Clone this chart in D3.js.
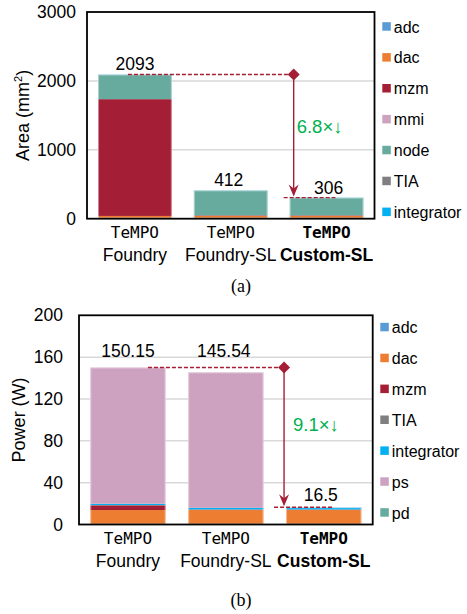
<!DOCTYPE html>
<html>
<head>
<meta charset="utf-8">
<script src="https://cdn.jsdelivr.net/npm/d3@7"></script>
<style>
  html, body { margin: 0; padding: 0; background: #fff; }
  svg { display: block; }
  text { fill: #000; }
</style>
</head>
<body>
<svg id="fig" width="467" height="614"></svg>
<script>
// Design variants shown on both panels
const variants = ["Foundry", "Foundry-SL", "Custom-SL"];
const variantPrefix = "TeMPO";

// (a) area breakdown, mm²
const areaKeys = ["adc", "dac", "mzm", "mmi", "node", "TIA", "integrator"];
const areaAdc        = [15, 15, 15];
const areaDac        = [25, 25, 25];
const areaMzm        = [1695, 8, 8];
const areaMmi        = [0, 0, 0];
const areaNode       = [355, 361, 255];
const areaTia        = [0, 0, 0];
const areaIntegrator = [3, 3, 3];
const areaTotals     = [2093, 412, 306];
const areaTicks      = [0, 1000, 2000, 3000];
const areaRatio      = "6.8×↓";

// (b) power breakdown, W
const powerKeys = ["adc", "dac", "mzm", "TIA", "integrator", "ps", "pd"];
const powerAdc        = [0.8, 0.8, 0.8];
const powerDac        = [13.0, 13.0, 13.0];
const powerMzm        = [4.5, 0.3, 0.3];
const powerTia        = [0.3, 0.3, 0.3];
const powerIntegrator = [1.2, 1.5, 1.8];
const powerPs         = [130.35, 129.64, 0.3];
const powerPd         = [0, 0, 0];
const powerTotals     = [150.15, 145.54, 16.5];
const powerTicks      = [0, 40, 80, 120, 160, 200];
const powerRatio      = "9.1×↓";

const colors = {
  adc: "#5B9BD5", dac: "#ED7D31", mzm: "#A41F35", mmi: "#CDA2C0",
  node: "#67AB9F", TIA: "#7F7F7F", integrator: "#00B0F0",
  ps: "#CDA2C0", pd: "#67AB9F"
};
const accent = "#A41F35";
const green = "#00B050";
const SANS = "'Liberation Sans', Arial, sans-serif";
const MONO = "'DejaVu Sans Mono', monospace";
const SERIF = "'Liberation Serif', 'Times New Roman', serif";

function rows(keys, cols) {
  return variants.map((v, i) => {
    const r = { variant: v };
    keys.forEach((k, j) => { r[k] = cols[j][i]; });
    return r;
  });
}

const areaRows = rows(areaKeys, [areaAdc, areaDac, areaMzm, areaMmi, areaNode, areaTia, areaIntegrator]);
const powerRows = rows(powerKeys, [powerAdc, powerDac, powerMzm, powerTia, powerIntegrator, powerPs, powerPd]);

const svg = d3.select("#fig");

function drawPanel(o) {
  const g = svg.append("g").style("font-family", SANS);
  const x = d3.scaleBand().domain(variants)
    .range([o.left, o.right]).paddingInner(0.23).paddingOuter(0.115);
  const y = d3.scaleLinear().domain([0, o.ticks[o.ticks.length - 1]])
    .range([o.bottom, o.top]);

  // gridlines
  g.append("g").selectAll("line").data(o.ticks.slice(1, -1)).join("line")
    .attr("x1", o.left).attr("x2", o.right)
    .attr("y1", d => y(d)).attr("y2", d => y(d))
    .attr("stroke", "#d9d9d9").attr("stroke-width", 1.5);

  // y axis labels
  const ax = g.append("g").attr("transform", `translate(${o.left},0)`)
    .call(d3.axisLeft(y).tickValues(o.ticks).tickFormat(d3.format("d"))
      .tickSize(0).tickPadding(o.tickPad));
  ax.select(".domain").remove();
  ax.selectAll("text").attr("font-size", 17.5)
    .style("font-family", SANS).attr("fill", "#000");

  // stacked bars
  const series = d3.stack().keys(o.keys)(o.rows);
  g.append("g").selectAll("g").data(series).join("g")
    .attr("fill", d => colors[d.key])
    .selectAll("rect").data(d => d).join("rect")
    .attr("x", d => x(d.data.variant))
    .attr("width", x.bandwidth())
    .attr("y", d => y(d[1]))
    .attr("height", d => Math.max(0, y(d[0]) - y(d[1])));

  // soft outline round each bar
  g.append("g").selectAll("rect").data(o.totals).join("rect")
    .attr("x", (d, i) => x(variants[i]) + 0.5)
    .attr("width", x.bandwidth() - 1)
    .attr("y", d => y(d) + 0.5)
    .attr("height", d => y(0) - y(d) - 0.5)
    .attr("fill", "none").attr("stroke", "#ffffff").attr("stroke-opacity", 0.45)
    .attr("stroke-width", 1);

  // plot frame
  g.append("rect").attr("x", o.left).attr("y", o.top)
    .attr("width", o.right - o.left).attr("height", o.bottom - o.top)
    .attr("fill", "none").attr("stroke", "#000").attr("stroke-width", 1.8);

  // total labels
  const maxT = d3.max(o.totals);
  g.append("g").selectAll("text").data(o.totals).join("text")
    .attr("x", (d, i) => x(variants[i]) + x.bandwidth() / 2 + o.labelDx[i])
    .attr("y", d => o.labelY(y, d, maxT))
    .attr("text-anchor", "middle").attr("font-size", 17.5)
    .text(d => d);

  // category labels
  const cat = g.append("g");
  variants.forEach((v, i) => {
    const cx = x(v) + x.bandwidth() / 2;
    const bold = i === variants.length - 1;
    cat.append("text").attr("x", cx).attr("y", o.bottom + 19)
      .attr("text-anchor", "middle").attr("font-size", 16)
      .style("font-family", MONO)
      .attr("font-weight", bold ? "bold" : "normal")
      .text(variantPrefix);
    cat.append("text").attr("x", cx).attr("y", o.bottom + 42)
      .attr("text-anchor", "middle").attr("font-size", 17.5)
      .attr("font-weight", bold ? "bold" : "normal")
      .text(v);
  });

  // reduction marker: dashed guides, diamond and arrow
  const last = variants[variants.length - 1];
  const ax0 = x(last) + o.arrowDx;
  const yHi = y(o.totals[0]);
  const yLo = y(o.totals[o.totals.length - 1]);
  const mk = g.append("g").attr("stroke", accent).attr("fill", accent);
  mk.append("line").attr("x1", x(variants[0]) + x.bandwidth() / 2 + o.dashStart).attr("x2", ax0)
    .attr("y1", yHi).attr("y2", yHi)
    .attr("stroke-width", 1.4).attr("stroke-dasharray", "4,2");
  mk.append("line").attr("x1", ax0 - 10).attr("x2", x(last) + x.bandwidth() * 0.62)
    .attr("y1", yLo).attr("y2", yLo)
    .attr("stroke-width", 1.4).attr("stroke-dasharray", "4,2");
  mk.append("line").attr("x1", ax0).attr("x2", ax0)
    .attr("y1", yHi).attr("y2", yLo - 3)
    .attr("stroke-width", 1.4);
  mk.append("path")
    .attr("d", `M${ax0},${yLo - 1} L${ax0 - 5},${yLo - 13} L${ax0},${yLo - 9} L${ax0 + 5},${yLo - 13} Z`)
    .attr("stroke", "none");
  mk.append("path")
    .attr("d", `M${ax0},${yHi - 6} L${ax0 + 6},${yHi} L${ax0},${yHi + 6} L${ax0 - 6},${yHi} Z`)
    .attr("stroke", "none");
  g.append("text").attr("x", ax0 + o.ratioDx).attr("y", (yHi + yLo) / 2 + o.ratioDy)
    .attr("font-size", 18.5).style("fill", green).text(o.ratio);

  // legend
  const lg = g.append("g");
  o.keys.forEach((k, i) => {
    const cy = o.legendTop + i * 30.9;
    lg.append("rect").attr("x", o.legendX).attr("y", cy - 4.5)
      .attr("width", 8.5).attr("height", 8.5).attr("fill", colors[k]);
    lg.append("text").attr("x", o.legendX + 11.5).attr("y", cy + 5.8)
      .attr("font-size", 16).text(k);
  });

  // y-axis title
  const ty = g.append("text")
    .attr("transform", `translate(${o.titleX},${(o.top + o.bottom) / 2}) rotate(-90)`)
    .attr("text-anchor", "middle").attr("font-size", 18);
  o.title(ty);

  // panel caption
  g.append("text").attr("x", 241).attr("y", o.captionY)
    .attr("text-anchor", "middle").attr("font-size", 18)
    .style("font-family", SERIF)
    .text(o.caption);
}

drawPanel({
  rows: areaRows, keys: areaKeys, totals: areaTotals, ticks: areaTicks,
  left: 87, right: 374.5, top: 12, bottom: 218.7, tickPad: 11,
  labelDx: [0, -2, 2],
  labelY: (y, d) => y(d) - 4,
  arrowDx: 4, dashStart: -7, ratioDx: 3, ratioDy: -3, ratio: areaRatio,
  legendX: 382.3, legendTop: 26.7,
  titleX: 29,
  title: t => {
    t.append("tspan").text("Area (mm");
    t.append("tspan").attr("font-size", 11).attr("dy", -7).text("2");
    t.append("tspan").attr("dy", 7).text(")");
  },
  captionY: 292, caption: "(a)"
});

drawPanel({
  rows: powerRows, keys: powerKeys, totals: powerTotals, ticks: powerTicks,
  left: 79, right: 372.7, top: 315.3, bottom: 524.5, tickPad: 16,
  labelDx: [0, -2, -3],
  labelY: (y, d, m) => d > m / 2 ? y(m) - 10 : y(d) - 6,
  arrowDx: -2, dashStart: 20, ratioDx: 9, ratioDy: -6, ratio: powerRatio,
  legendX: 380.3, legendTop: 327.3,
  titleX: 25,
  title: t => t.text("Power (W)"),
  captionY: 606, caption: "(b)"
});
</script>
</body>
</html>
